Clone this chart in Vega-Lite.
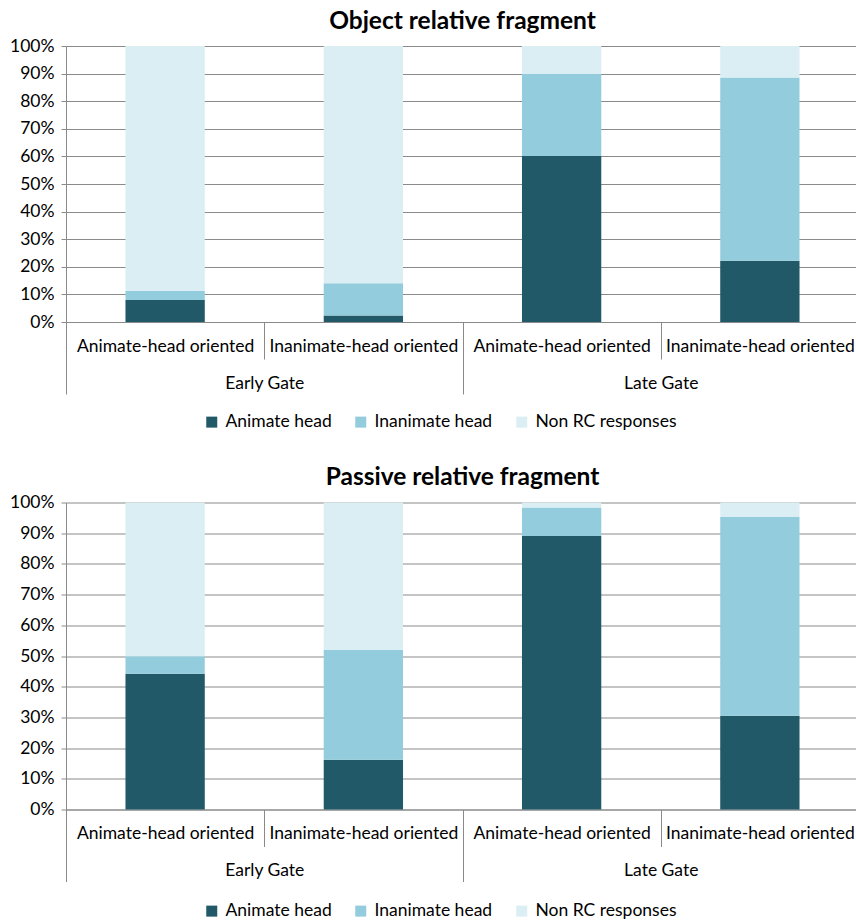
{
  "$schema": "https://vega.github.io/schema/vega-lite/v6.json",
  "padding": {"left": 9, "top": 8, "right": 0, "bottom": 0},
  "config": {
    "font": "Lato",
    "view": {"stroke": null},
    "axis": {"labelFont": "Lato", "labelFontSize": 17.5, "labelColor": "#000000", "domainColor": "#8a8a8a", "tickColor": "#8a8a8a", "gridColor": "#8a8a8a", "title": null, "labelOverlap": false, "labelLimit": 0, "labelBound": false},
    "title": {"font": "Lato", "fontSize": 24.5, "fontWeight": "bold", "color": "#000000", "offset": 3},
    "legend": {"labelFont": "Lato", "labelFontSize": 17.5, "labelColor": "#000000", "symbolType": "square", "symbolSize": 121, "symbolStrokeWidth": 0, "columnPadding": 20, "labelOffset": 5, "orient": "none", "direction": "horizontal", "title": null},
    "concat": {"spacing": 33.5}
  },
  "datasets": {
    "object": [
      {"gate": "Early Gate", "cond": "Early Gate / Animate-head oriented", "response": "Animate head", "pct": 8.0},
      {"gate": "Early Gate", "cond": "Early Gate / Animate-head oriented", "response": "Inanimate head", "pct": 3.3},
      {"gate": "Early Gate", "cond": "Early Gate / Animate-head oriented", "response": "Non RC responses", "pct": 88.7},
      {"gate": "Early Gate", "cond": "Early Gate / Inanimate-head oriented", "response": "Animate head", "pct": 2.4},
      {"gate": "Early Gate", "cond": "Early Gate / Inanimate-head oriented", "response": "Inanimate head", "pct": 11.6},
      {"gate": "Early Gate", "cond": "Early Gate / Inanimate-head oriented", "response": "Non RC responses", "pct": 86.0},
      {"gate": "Late Gate", "cond": "Late Gate / Animate-head oriented", "response": "Animate head", "pct": 60.1},
      {"gate": "Late Gate", "cond": "Late Gate / Animate-head oriented", "response": "Inanimate head", "pct": 29.8},
      {"gate": "Late Gate", "cond": "Late Gate / Animate-head oriented", "response": "Non RC responses", "pct": 10.1},
      {"gate": "Late Gate", "cond": "Late Gate / Inanimate-head oriented", "response": "Animate head", "pct": 22.2},
      {"gate": "Late Gate", "cond": "Late Gate / Inanimate-head oriented", "response": "Inanimate head", "pct": 66.4},
      {"gate": "Late Gate", "cond": "Late Gate / Inanimate-head oriented", "response": "Non RC responses", "pct": 11.4}
    ],
    "passive": [
      {"gate": "Early Gate", "cond": "Early Gate / Animate-head oriented", "response": "Animate head", "pct": 44.2},
      {"gate": "Early Gate", "cond": "Early Gate / Animate-head oriented", "response": "Inanimate head", "pct": 5.7},
      {"gate": "Early Gate", "cond": "Early Gate / Animate-head oriented", "response": "Non RC responses", "pct": 50.1},
      {"gate": "Early Gate", "cond": "Early Gate / Inanimate-head oriented", "response": "Animate head", "pct": 16.2},
      {"gate": "Early Gate", "cond": "Early Gate / Inanimate-head oriented", "response": "Inanimate head", "pct": 35.8},
      {"gate": "Early Gate", "cond": "Early Gate / Inanimate-head oriented", "response": "Non RC responses", "pct": 48.0},
      {"gate": "Late Gate", "cond": "Late Gate / Animate-head oriented", "response": "Animate head", "pct": 89.1},
      {"gate": "Late Gate", "cond": "Late Gate / Animate-head oriented", "response": "Inanimate head", "pct": 9.3},
      {"gate": "Late Gate", "cond": "Late Gate / Animate-head oriented", "response": "Non RC responses", "pct": 1.6},
      {"gate": "Late Gate", "cond": "Late Gate / Inanimate-head oriented", "response": "Animate head", "pct": 30.5},
      {"gate": "Late Gate", "cond": "Late Gate / Inanimate-head oriented", "response": "Inanimate head", "pct": 64.8},
      {"gate": "Late Gate", "cond": "Late Gate / Inanimate-head oriented", "response": "Non RC responses", "pct": 4.7}
    ]
  },
  "resolve": {"legend": {"color": "independent"}},
  "vconcat": [
    {
      "title": "Object relative fragment",
      "width": 793,
      "height": 276,
      "data": {"name": "object"},
      "layer": [
        {
          "mark": {"type": "bar", "width": {"band": 0.4}},
          "encoding": {
            "x": {"field": "cond", "type": "nominal", "sort": ["Early Gate / Animate-head oriented", "Early Gate / Inanimate-head oriented", "Late Gate / Animate-head oriented", "Late Gate / Inanimate-head oriented"], "scale": {"paddingInner": 0, "paddingOuter": 0}, "axis": {"orient": "bottom", "tickBand": "extent", "tickSize": 37, "labelExpr": "split(datum.label, ' / ')[1]", "labelPadding": -22, "labelAngle": 0, "grid": false}},
            "y": {"field": "pct", "type": "quantitative", "stack": "zero", "scale": {"domain": [0, 100], "nice": false}, "axis": {"values": [0, 10, 20, 30, 40, 50, 60, 70, 80, 90, 100], "labelExpr": "datum.value + '%'", "grid": true, "tickSize": 5, "labelPadding": 7}},
            "color": {"field": "response", "type": "nominal", "scale": {"domain": ["Animate head", "Inanimate head", "Non RC responses"], "range": ["#215968", "#93CDDD", "#DBEEF3"]}, "legend": {"legendX": 137, "legendY": 367}},
            "order": {"field": "response", "sort": "ascending"}
          }
        },
        {
          "mark": {"type": "rule", "opacity": 0},
          "encoding": {
            "x": {"field": "gate", "type": "nominal", "sort": ["Early Gate", "Late Gate"], "scale": {"paddingInner": 0, "paddingOuter": 0}, "axis": {"orient": "bottom", "tickBand": "extent", "tickSize": 72, "labelPadding": -20, "labelAngle": 0, "domain": false, "grid": false}}
          }
        }
      ],
      "resolve": {"scale": {"x": "independent"}, "axis": {"x": "independent"}}
    },
    {
      "title": "Passive relative fragment",
      "width": 793,
      "height": 307,
      "data": {"name": "passive"},
      "layer": [
        {
          "mark": {"type": "bar", "width": {"band": 0.4}},
          "encoding": {
            "x": {"field": "cond", "type": "nominal", "sort": ["Early Gate / Animate-head oriented", "Early Gate / Inanimate-head oriented", "Late Gate / Animate-head oriented", "Late Gate / Inanimate-head oriented"], "scale": {"paddingInner": 0, "paddingOuter": 0}, "axis": {"orient": "bottom", "tickBand": "extent", "tickSize": 37, "labelExpr": "split(datum.label, ' / ')[1]", "labelPadding": -22, "labelAngle": 0, "grid": false}},
            "y": {"field": "pct", "type": "quantitative", "stack": "zero", "scale": {"domain": [0, 100], "nice": false}, "axis": {"values": [0, 10, 20, 30, 40, 50, 60, 70, 80, 90, 100], "labelExpr": "datum.value + '%'", "grid": true, "tickSize": 5, "labelPadding": 7}},
            "color": {"field": "response", "type": "nominal", "scale": {"domain": ["Animate head", "Inanimate head", "Non RC responses"], "range": ["#215968", "#93CDDD", "#DBEEF3"]}, "legend": {"legendX": 137, "legendY": 399.5}},
            "order": {"field": "response", "sort": "ascending"}
          }
        },
        {
          "mark": {"type": "rule", "opacity": 0},
          "encoding": {
            "x": {"field": "gate", "type": "nominal", "sort": ["Early Gate", "Late Gate"], "scale": {"paddingInner": 0, "paddingOuter": 0}, "axis": {"orient": "bottom", "tickBand": "extent", "tickSize": 72, "labelPadding": -20, "labelAngle": 0, "domain": false, "grid": false}}
          }
        }
      ],
      "resolve": {"scale": {"x": "independent"}, "axis": {"x": "independent"}}
    }
  ]
}
